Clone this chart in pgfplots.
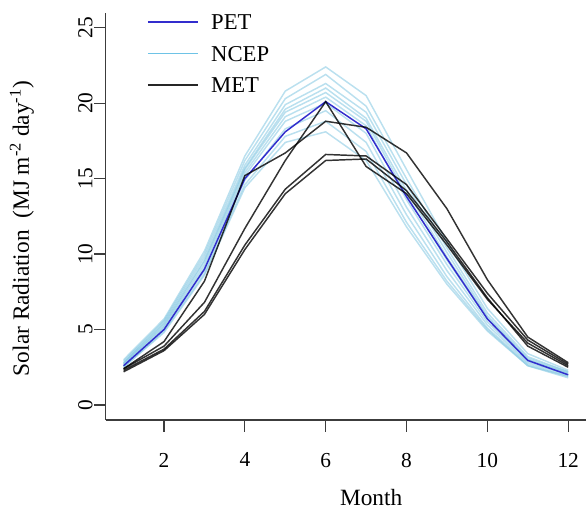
\documentclass[border=0pt]{standalone}
\usepackage{pgfplots}
\pgfplotsset{compat=1.18}
\usepackage{fontspec}
\setmainfont{Liberation Serif}
\definecolor{petblue}{RGB}{50,45,205}
\definecolor{ncep}{RGB}{130,198,225}
\definecolor{ncepleg}{RGB}{110,195,230}
\definecolor{axisgray}{RGB}{60,60,60}

\pgfplotstableread{
m  P    N1   N2   N3   N4   N5   N6   N7   N8   N9   N10  A    B    C    D
1  2.6  3.0  2.9  2.8  2.8  2.7  2.7  2.6  2.6  2.5  2.5  2.4  2.4  2.3  2.2
2  5.0  5.7  5.6  5.5  5.4  5.3  5.2  5.1  5.0  4.9  4.8  4.2  3.9  3.7  3.6
3  9.0  10.2 10.0 9.8  9.6  9.5  9.3  9.1  8.9  8.7  8.6  8.2  6.8  6.2  6.0
4  15.0 16.5 16.2 15.9 15.7 15.6 15.4 15.2 14.9 14.6 14.4 15.2 11.7 10.6 10.3
5  18.1 20.8 20.3 19.9 19.6 19.4 19.1 18.8 18.3 17.8 17.4 16.7 16.2 14.3 14.0
6  20.1 22.4 21.9 21.3 21.0 20.7 20.4 20.0 19.5 18.8 18.1 18.8 20.1 16.6 16.2
7  18.3 20.5 19.8 19.4 19.0 18.8 18.5 18.0 17.4 16.8 16.2 18.4 15.8 16.5 16.3
8  13.8 15.6 15.0 14.6 14.2 13.9 13.6 13.1 12.6 12.1 11.8 16.7 14.0 14.6 14.2
9  9.7  10.8 10.4 10.1 9.8  9.6  9.3  8.9  8.5  8.2  8.0  13.0 10.6 11.0 10.8
10 5.7  6.4  6.1  5.9  5.8  5.7  5.5  5.3  5.1  5.0  4.9  8.3  7.0  7.4  7.1
11 2.95 3.4  3.2  3.1  3.0  3.0  2.9  2.8  2.7  2.6  2.6  4.5  4.1  4.3  3.9
12 2.0  2.3  2.2  2.2  2.1  2.1  2.0  2.0  1.9  1.9  1.8  2.8  2.6  2.7  2.5
}\datatable

\begin{document}
\begin{tikzpicture}
\begin{axis}[
  scale only axis, width=360pt, height=305.5pt,
  xmin=0.56, xmax=12.44, ymin=-1, ymax=26,
  axis x line*=bottom, axis y line*=left,
  axis line style={line width=0.9pt, color=axisgray, -},
  xtick={2,4,...,12}, ytick={0,5,...,25},
  tick align=outside, major tick length=8.6pt,
  tick style={line width=0.9pt, color=axisgray},
  ticklabel style={font=\fontsize{16}{16}\selectfont, inner sep=0pt},
  /pgf/number format/assume math mode=true,
  xticklabel shift=15.8pt,
  yticklabel shift=1.2pt,
  yticklabel style={rotate=90, anchor=south},
  xlabel={Month},
  ylabel={Solar Radiation\ \ (MJ m\textsuperscript{-2} day\textsuperscript{-1})},
  label style={font=\fontsize{17.5}{17.5}\selectfont},
  xlabel style={at={(axis description cs:0.5525,-0.189)}, anchor=center},
  ylabel style={at={(axis description cs:-0.175,0.47)}, anchor=center},
  legend image code/.code={\draw[#1] (0pt,0pt) -- (38pt,0pt);},
  legend style={draw=none, fill=none, inner sep=0pt, outer sep=0pt,
    font=\fontsize{17}{17}\selectfont,
    at={(axis cs:1.579,25.91)}, anchor=north west,
    row sep=11.6pt,
    nodes={inner sep=0pt, text height=12pt, text depth=0pt},
    /tikz/every odd column/.append style={column sep=9pt}},
  legend cell align=left,
  every axis plot/.append style={line width=1.1pt},
]
\addlegendimage{petblue, line width=1.1pt}
\addlegendentry{PET}
\addlegendimage{ncepleg, line width=1.1pt}
\addlegendentry{NCEP}
\addlegendimage{black!85, line width=1.1pt}
\addlegendentry{MET}
\foreach \c in {N1,N2,N3,N4,N5,N6,N7,N8,N9,N10}{
  \addplot[ncep, opacity=0.55, forget plot] table[x=m, y=\c] {\datatable};
}
\addplot[petblue, forget plot] table[x=m, y=P] {\datatable};
\foreach \c in {A,B,C,D}{
  \addplot[black, opacity=0.8, forget plot] table[x=m, y=\c] {\datatable};
}
\end{axis}
\pgfresetboundingbox
\path[use as bounding box] ([xshift=-79.35pt, yshift=-69pt]current axis.south west) rectangle ([xshift=0.75pt, yshift=9.45pt]current axis.north east);
\end{tikzpicture}
\end{document}
